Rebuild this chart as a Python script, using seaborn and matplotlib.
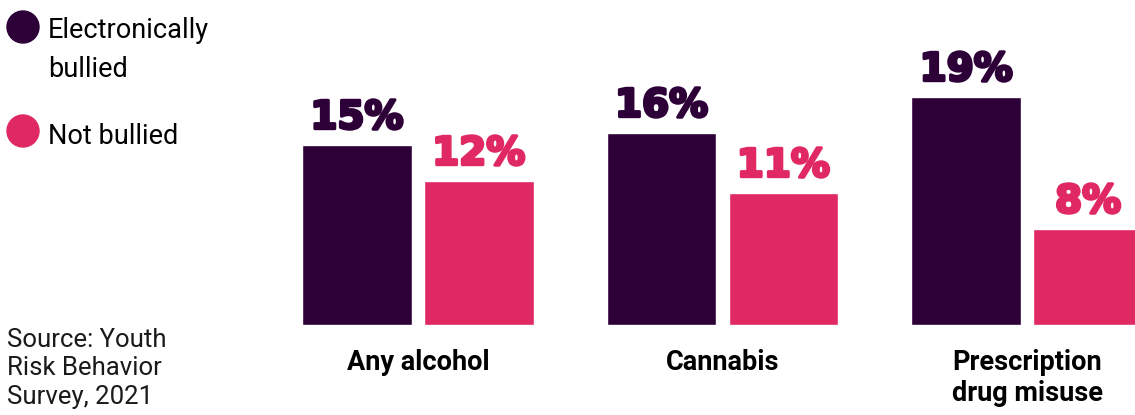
import matplotlib
matplotlib.use("Agg")
import matplotlib.pyplot as plt
import matplotlib.patheffects as pe
from matplotlib.patches import Circle
import seaborn as sns
import pandas as pd

categories = ["Any alcohol", "Cannabis", "Prescription\ndrug misuse"]
groups = ["Electronically bullied", "Not bullied"]
electronically_bullied = [15, 16, 19]
not_bullied = [12, 11, 8]
source_note = "Source: Youth\nRisk Behavior\nSurvey, 2021"

colors = {"Electronically bullied": "#2D0038", "Not bullied": "#E02862"}

df = pd.DataFrame({
    "category": categories * 2,
    "group": [groups[0]] * 3 + [groups[1]] * 3,
    "value": electronically_bullied + not_bullied,
})

sns.set_theme(style="white")
plt.rcParams["font.family"] = ["Roboto", "DejaVu Sans"]

W, H = 1135, 415
fig = plt.figure(figsize=(W / 100, H / 100), dpi=100)
# axes spans x pixels 290..1135, y pixels 25..325 (from top)
ax = fig.add_axes([290 / W, (H - 325) / H, (W - 290) / W, 300 / H])

sns.barplot(data=df, x="category", y="value", hue="group", palette=colors,
            order=categories, hue_order=groups, width=0.8, gap=0.1,
            saturation=1, legend=False, ax=ax)

px = 305.0  # pixels per category unit
ax.set_xlim(-128 / px, 2 + (1135 - 1027) / px)
ax.set_ylim(0, 25)

for container, g in zip(ax.containers, groups):
    texts = ax.bar_label(container, fmt="%d%%", padding=6, color=colors[g],
                         fontsize=28, fontweight="bold", family="DejaVu Sans")
    for t in texts:
        t.set_path_effects([pe.withStroke(linewidth=2.2, foreground=colors[g])])

ax.set_xlabel("")
ax.set_ylabel("")
ax.set_yticks([])
ax.tick_params(axis="x", length=0, pad=17)
for lab in ax.get_xticklabels():
    lab.set_fontsize(19.5)
    lab.set_fontweight("bold")
    lab.set_color("black")
    lab.set_linespacing(1.2)
    lab.set_verticalalignment("top")
sns.despine(ax=ax, left=True, bottom=True)

# legend drawn with circles and labels on the left
leg_items = [(27, "Electronically\nbullied", groups[0], 18), (131, "Not bullied", groups[1], 16)]
for yc, text, g, dy in leg_items:
    fig.patches.append(Circle((23 / 100, (H - yc) / 100), 0.16, color=colors[g],
                              transform=fig.dpi_scale_trans, figure=fig))
    fig.text(48 / W, (H - yc + dy - 8) / H, text, fontsize=19.5, color="black",
             va="top", ha="left", linespacing=1.55)

fig.text(7 / W, (H - 328) / H, source_note, fontsize=18.5, color="#1a1a1a",
         va="top", ha="left", linespacing=1.23)

fig.savefig("out.png", dpi=100)
